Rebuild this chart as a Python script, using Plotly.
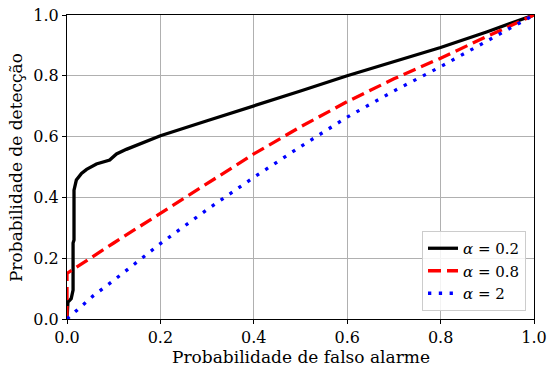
import plotly.graph_objects as go

# Data
pfa_a02 = [0.0, 0.002, 0.009, 0.013, 0.013, 0.015, 0.015, 0.02, 0.031, 0.042, 0.063, 0.0915, 0.095,
           0.106, 0.127, 0.149, 0.177, 0.2, 0.3, 0.4, 0.5, 0.6, 0.7, 0.8, 0.9, 1.0]
pd_a02 = [0.0, 0.056, 0.067, 0.095, 0.25, 0.26, 0.424, 0.457, 0.479, 0.492, 0.51, 0.523, 0.528,
          0.543, 0.558, 0.572, 0.588, 0.603, 0.652, 0.70, 0.75, 0.80, 0.847, 0.893, 0.945, 1.0]

pfa_a08 = [0.0, 0.0, 0.1, 0.2, 0.3, 0.4, 0.5, 0.6, 0.7, 0.8, 0.9, 1.0]
pd_a08 = [0.0, 0.15, 0.25, 0.347, 0.447, 0.543, 0.632, 0.715, 0.79, 0.858, 0.93, 1.0]

pfa_a2 = [0.0, 0.056, 0.1, 0.2, 0.3, 0.4, 0.5, 0.6, 0.7, 0.8, 0.9, 1.0]
pd_a2 = [0.0, 0.076, 0.127, 0.248, 0.36, 0.466, 0.567, 0.664, 0.75, 0.83, 0.915, 1.0]

labels = ["<i>α</i> = 0.2", "<i>α</i> = 0.8", "<i>α</i> = 2"]
tick_vals = [0.0, 0.2, 0.4, 0.6, 0.8, 1.0]
tick_text = ["0.0", "0.2", "0.4", "0.6", "0.8", "1.0"]
x_title = "Probabilidade de falso alarme"
y_title = "Probabilidade de detecção"

FONT = "DejaVu Serif"

fig = go.Figure()
fig.add_trace(go.Scatter(x=pfa_a02, y=pd_a02, mode="lines", name=labels[0],
                         line=dict(color="black", width=3.3)))
fig.add_trace(go.Scatter(x=pfa_a08, y=pd_a08, mode="lines", name=labels[1],
                         line=dict(color="red", width=3.3, dash="13px,6px")))
fig.add_trace(go.Scatter(x=pfa_a2, y=pd_a2, mode="lines", name=labels[2],
                         line=dict(color="blue", width=3.3, dash="3.3px,7.5px")))

axis_common = dict(
    range=[0, 1], tickvals=tick_vals, ticktext=tick_text, automargin=False,
    showgrid=True, gridcolor="#b0b0b0", gridwidth=1,
    showline=True, linecolor="black", linewidth=1, mirror=True,
    ticks="outside", ticklen=4, tickcolor="black", tickwidth=1,
    zeroline=False, tickfont=dict(family=FONT, size=16, color="black"),
)

L, R, T, B = 67, 13, 15, 50
W, H = 547, 369
pw, ph = W - L - R, H - T - B

fig.update_layout(
    width=W, height=H,
    margin=dict(l=L, r=R, t=T, b=B, autoexpand=False),
    paper_bgcolor="white", plot_bgcolor="white",
    font=dict(family=FONT, size=16, color="black"),
    xaxis=axis_common,
    yaxis=axis_common,
    legend=dict(x=(526 - L) / pw, y=(H - B - 311) / ph, xanchor="right", yanchor="bottom",
                bgcolor="rgba(255,255,255,0.85)", bordercolor="#cccccc", borderwidth=1,
                font=dict(family=FONT, size=15), tracegroupgap=0),
    showlegend=True,
    annotations=[
        dict(text=x_title, xref="paper", yref="paper", x=(301 - L) / pw, y=-(357 - (H - B)) / ph,
             xanchor="center", yanchor="middle", showarrow=False, font=dict(family=FONT, size=17)),
        dict(text=y_title, xref="paper", yref="paper", x=-(L - 16) / pw, y=(H - B - 168) / ph,
             xanchor="center", yanchor="middle", showarrow=False, textangle=-90,
             font=dict(family=FONT, size=17)),
    ],
)

fig.write_html("out.html", config={"displayModeBar": False},
               post_script="document.body.style.margin='0';document.body.style.overflow='hidden';")
